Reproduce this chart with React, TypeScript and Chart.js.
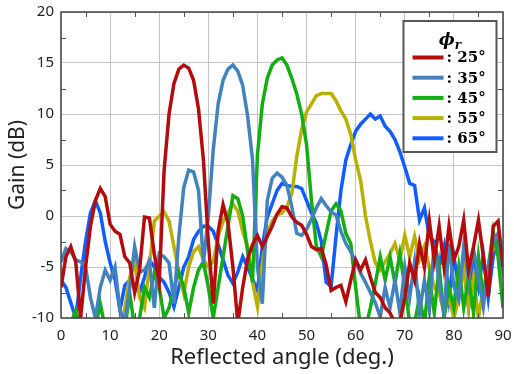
import React, { useEffect, useRef } from "react";
import { Chart, registerables } from "chart.js";

Chart.register(...registerables);

const angles = [
  0, 1, 2, 3, 4, 5, 6, 7, 8, 9, 10, 11, 12, 13, 14, 15, 16, 17, 18, 19,
  20, 21, 22, 23, 24, 25, 26, 27, 28, 29, 30, 31, 32, 33, 34, 35, 36, 37, 38, 39,
  40, 41, 42, 43, 44, 45, 46, 47, 48, 49, 50, 51, 52, 53, 54, 55, 56, 57, 58, 59,
  60, 61, 62, 63, 64, 65, 66, 67, 68, 69, 70, 71, 72, 73, 74, 75, 76, 77, 78, 79,
  80, 81, 82, 83, 84, 85, 86, 87, 88, 89, 90,
];

const gain25 = [
  -7, -4, -3, -4.5, -10, -5, -1, 1.5, 2.7, 1.9,
  -0.8, -1.5, -1.8, -4, -4.6, -7.5, -5.3, -0.1, -0.2, -3.7,
  -6.5, 4.5, 10, 13, 14.4, 14.8, 14.5, 13.3, 10.5, 5.5,
  -2.5, -8.6, -1.5, 1.1, -0.7, -5, -10.5, -7, -4.2, -2.8,
  -1.9, -3, -2, -1, 0.2, 0.9, 0.8, -0.1, -0.6, -0.9,
  -1.8, -3, -3.3, -3.2, -4.8, -7.3, -7, -6.8, -8.4, -6.3,
  -4.3, -5.3, -4.3, -6, -7.5, -8, -9, -9.5, -10.5, -10.5,
  -8, -4.6, -6.3, -2.7, -5, -0.5, -4.3, -1, -5, -1,
  -4.3, -3, -0.4, -5.3, -3, -0.4, -4, -7.9, -1, -0.5, -5,
];

const gain35 = [
  -4.5, -3.2, -3.5, -4.3, -4.5, -5, -8, -10, -7, -5.3,
  -6.3, -5, -9.2, -10.5, -7, -3, -5.5, -5.3, -4.5, -9,
  -3.7, -4, -4.6, -8.6, -2, 2.8, 4.5, 4.3, 2.5, -4.6,
  0, 6.5, 11, 13.3, 14.4, 14.8, 14.2, 12.8, 9.8, 5.5,
  -5, -8.6, 1.5, 3.7, 4.2, 3.8, 3, 0.9, -1.7, -1.9,
  -1.3, -0.3, 0.8, 1.7, 1, 0.4, 0.1, -1.5, -2.7, -3.5,
  -4.5, -5.6, -6.5, -7.5, -8.5, -9.9, -7, -9, -6.3, -9.5,
  -5, -8, -4.5, -9.5, -6.3, -9.2, -2.7, -6.6, -9.5, -2.7,
  -6.9, -8.2, -3, -6, -3.3, -6, -8.9, -5, -2.5, -1.7, -5.6,
];

const gain45 = [
  -11, -11, -10.5, -9.3, -11, -11, -11, -11, -8.6, -11,
  -11, -11, -11, -11, -7.6, -11, -10, -7, -8, -5.6,
  -7, -10, -9, -7, -5.5, -7, -9.5, -7, -5.3, -4.5,
  -7, -10, -7, -4, -1, 2, 1.7, 0, -3.5, -6.5,
  6, 11, 13.5, 14.8, 15.3, 15.5, 14.8, 13.5, 12, 10,
  7, 1.5, -3, -4, -1.7, 0.5, 1.2, 0.5, -1.7, -2.7,
  -7, -11, -11, -9, -6.6, -4, -6.3, -4, -6.6, -3.7,
  -6.9, -10.5, -10.5, -8, -10.5, -6, -9.5, -5, -10, -7,
  -9, -5, -9, -6, -9.5, -4, -8, -5, -1.5, -4, -9,
];

const gain55 = [
  -12, -12, -12, -12, -12, -12, -12, -12, -12, -12,
  -12, -12, -12, -9, -6, -4.5, -8, -9, -5, -0.5,
  0, 0.4, -0.5, -3, -5.5, -7.6, -5, -3.5, -3, -4.3,
  -5, -4.5, -2, -0.5, 0.3, 1.2, 0.5, -1.5, -3, -6.5,
  -8.9, -4.6, -1.7, -0.5, 0.1, 0.3, 0.9, 2.2, 5.8, 8.5,
  10.2, 11, 11.8, 12, 12, 12, 11.3, 10.3, 9.5, 8,
  5.5, 3.5, 0, -2.5, -4.6, -5.3, -4.5, -3.7, -2.7, -4.3,
  -1.9, -4, -2, -4.3, -3, -5, -7, -7.6, -9.5, -8,
  -10, -8, -5, -9, -6, -10, -7, -5, -3, -3.5, -6,
];

const gain65 = [
  -6.3, -7, -8.5, -10, -6, -2.5, 0.3, 1.5, 0.3, -2.5,
  -4.6, -6.2, -9.2, -6.8, -6.3, -6.8, -7.5, -6, -4.3, -5,
  -6, -6.5, -7.5, -8.9, -7, -5, -4, -2.3, -1.5, -1,
  -1, -1.5, -2.8, -4.3, -5.8, -6.6, -5.5, -4, -5, -6.2,
  -7.3, -3, -0.1, 1.2, 2.5, 3.2, 3, 2.9, 2.9, 2.7,
  1.5, 0.3, -0.7, -2.5, -6.5, -6.9, -2, 2.5, 5.5, 7,
  8.3, 9, 9.5, 10, 9.5, 9.8, 8.8, 8.3, 7.5, 6.3,
  4.8, 3.2, 3, -0.4, 0.8, -2, -2.5, -5, -3, -8,
  -4, -7, -5, -9, -4.5, -7, -3.8, -8, -4, -2, -5,
];

const seriesLabels = [": 25°", ": 35°", ": 45°", ": 55°", ": 65°"];
const seriesColors = ["#b30c0c", "#4383bd", "#14ad14", "#b9b000", "#0f5cff"];
const seriesValues = [gain25, gain35, gain45, gain55, gain65];

const xTickStep = 10;
const yTickStep = 5;
const xMinorTicks = [5, 15, 25, 35, 45, 55, 65, 75, 85];
const yMinorTicks = [-7.5, -2.5, 2.5, 7.5, 12.5, 17.5];
const legendTitle = "ϕ";
const legendSub = "r";

const framePlugin = {
  id: "frameMinor",
  afterDatasetsDraw(chart: any) {
    const { ctx, chartArea, scales } = chart;
    const { left, right, top, bottom } = chartArea;
    ctx.save();
    ctx.strokeStyle = "#555";
    ctx.lineWidth = 1;
    ctx.beginPath();
    xMinorTicks.forEach((v) => {
      const px = Math.round(scales.x.getPixelForValue(v)) + 0.5;
      ctx.moveTo(px, bottom);
      ctx.lineTo(px, bottom - 5);
      ctx.moveTo(px, top);
      ctx.lineTo(px, top + 5);
    });
    yMinorTicks.forEach((v) => {
      const py = Math.round(scales.y.getPixelForValue(v)) + 0.5;
      ctx.moveTo(left, py);
      ctx.lineTo(left + 5, py);
      ctx.moveTo(right, py);
      ctx.lineTo(right - 5, py);
    });
    ctx.stroke();
    ctx.lineWidth = 1.5;
    ctx.strokeStyle = "#444";
    ctx.strokeRect(left, top, right - left, bottom - top);
    ctx.restore();
  },
};

const legendPlugin = {
  id: "boxLegend",
  afterDraw(chart: any) {
    const { ctx, chartArea } = chart;
    const bx = chartArea.right - 99.5;
    const by = chartArea.top + 9;
    const bw = 93;
    const bh = 131;
    ctx.save();
    ctx.fillStyle = "#ffffff";
    ctx.fillRect(bx, by, bw, bh);
    ctx.lineWidth = 2;
    ctx.strokeStyle = "#555";
    ctx.strokeRect(bx, by, bw, bh);
    ctx.fillStyle = "#000";
    ctx.textBaseline = "alphabetic";
    ctx.font = "bold italic 17px 'DejaVu Serif'";
    const tw = ctx.measureText(legendTitle).width;
    ctx.font = "bold italic 12px 'DejaVu Serif'";
    const sw = ctx.measureText(legendSub).width;
    const tx = bx + bw / 2 - (tw + sw) / 2;
    ctx.font = "bold italic 17px 'DejaVu Serif'";
    ctx.fillText(legendTitle, tx, by + 24);
    ctx.font = "bold italic 12px 'DejaVu Serif'";
    ctx.fillText(legendSub, tx + tw, by + 28);
    chart.data.datasets.forEach((ds: any, i: number) => {
      const ry = by + 36.5 + i * 20.2;
      ctx.strokeStyle = ds.borderColor;
      ctx.lineWidth = 4;
      ctx.beginPath();
      ctx.moveTo(bx + 9, ry);
      ctx.lineTo(bx + 40, ry);
      ctx.stroke();
      ctx.fillStyle = "#000";
      ctx.font = "bold 15px 'DejaVu Serif'";
      ctx.textBaseline = "middle";
      ctx.fillText(ds.label, bx + 43, ry + 1);
    });
    ctx.restore();
  },
};

const zeroPad = (s: any) => {
  s.paddingTop = 0;
  s.paddingBottom = 0;
  s.paddingLeft = 0;
  s.paddingRight = 0;
};

export default function App() {
  const canvasRef = useRef<HTMLCanvasElement | null>(null);

  useEffect(() => {
    if (!canvasRef.current) return;
    const tickFont = { family: "'Noto Sans', sans-serif", size: 15 };
    const xTitleFont = { family: "'Noto Sans', sans-serif", size: 22 };
    const yTitleFont = { family: "'Noto Sans', sans-serif", size: 21 };
    const chart = new Chart(canvasRef.current, {
      type: "line",
      data: {
        datasets: seriesValues.map((vals, i) => ({
          label: seriesLabels[i],
          data: angles.map((a, j) => ({ x: a, y: vals[j] })),
          borderColor: seriesColors[i],
          backgroundColor: seriesColors[i],
          borderWidth: 3.5,
          pointRadius: 0,
          tension: 0,
          fill: false,
          clip: 0,
        })),
      },
      options: {
        animation: false,
        responsive: true,
        maintainAspectRatio: false,
        layout: { padding: { left: 0, right: 11, top: 12, bottom: 0 } },
        plugins: {
          legend: { display: false },
          tooltip: { enabled: false },
        },
        scales: {
          x: {
            type: "linear",
            min: 0,
            max: 90,
            ticks: { stepSize: xTickStep, font: tickFont, color: "#222", padding: 9, maxRotation: 0 },
            grid: { color: "#c4c4c4", lineWidth: 1, drawTicks: false },
            border: { display: false },
            title: {
              display: true,
              text: "Reflected angle (deg.)",
              font: xTitleFont,
              color: "#222",
              padding: { top: 0, bottom: 3 },
            },
            afterFit: (s: any) => {
              s.height = 56;
              zeroPad(s);
            },
          },
          y: {
            type: "linear",
            min: -10,
            max: 20,
            ticks: { stepSize: yTickStep, font: tickFont, color: "#222", padding: 7 },
            grid: { color: "#c4c4c4", lineWidth: 1, drawTicks: false },
            border: { display: false },
            title: {
              display: true,
              text: "Gain (dB)",
              font: yTitleFont,
              color: "#222",
              padding: { top: 5, bottom: 0 },
            },
            afterFit: (s: any) => {
              s.width = 61;
              zeroPad(s);
            },
          },
        },
      },
      plugins: [framePlugin, legendPlugin],
    } as any);
    return () => chart.destroy();
  }, []);

  return (
    <div style={{ position: "absolute", left: 0, top: 0, width: 514, height: 374 }}>
      <canvas ref={canvasRef} />
    </div>
  );
}
